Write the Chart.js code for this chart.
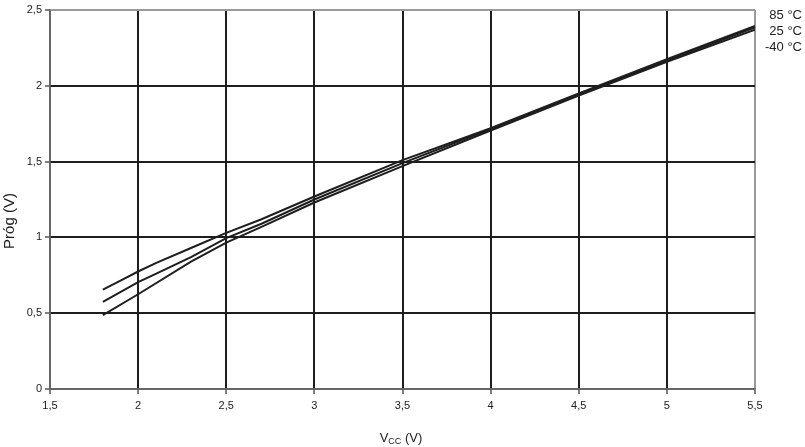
<!DOCTYPE html>
<html>
<head>
<meta charset="utf-8">
<script src="https://cdn.jsdelivr.net/npm/chart.js@4/dist/chart.umd.min.js"></script>
<style>
  html, body { margin: 0; padding: 0; background: #fff; }
  #wrap { width: 805px; height: 447px; }
</style>
</head>
<body>
<div id="wrap"><canvas id="myChart" width="805" height="447"></canvas></div>
<script>
var seriesNames = ["85 °C", "25 °C", "-40 °C"];
var vcc85 = [1.8, 1.9, 2.0, 2.1, 2.3, 2.5, 2.7, 3.0, 3.5, 4.0, 4.5, 5.0, 5.5];
var prog85 = [0.655, 0.715, 0.775, 0.83, 0.93, 1.03, 1.12, 1.27, 1.51, 1.72, 1.95, 2.175, 2.395];
var vcc25 = [1.8, 2.0, 2.1, 2.3, 2.5, 2.7, 3.0, 3.5, 4.0, 4.5, 5.0, 5.5];
var prog25 = [0.575, 0.705, 0.76, 0.87, 0.995, 1.09, 1.25, 1.49, 1.715, 1.945, 2.165, 2.385];
var vccM40 = [1.8, 2.0, 2.3, 2.5, 2.7, 3.0, 3.5, 4.0, 4.5, 5.0, 5.5];
var progM40 = [0.487, 0.625, 0.84, 0.965, 1.07, 1.23, 1.47, 1.705, 1.935, 2.158, 2.37];
var xTicks = [1.5, 2, 2.5, 3, 3.5, 4, 4.5, 5, 5.5];
var yTicks = [0, 0.5, 1, 1.5, 2, 2.5];
var yTitle = "Próg (V)";

function pts(xs, ys) {
    return xs.map(function (x, i) { return { x: x, y: ys[i] }; });
}
function komma(v) { return String(v).replace(".", ","); }

var tickFont = { family: "'Liberation Sans Narrow', 'Liberation Sans', Arial", size: 11 };

function gridColor(ctx) {
    var n = ctx.chart.scales[ctx.scale.id].ticks.length;
    if (ctx.index === n - 1) return "#9a9a9a";
    if (ctx.index === 0) return "#666";
    return "#1e1e1e";
}

var extras = {
    id: "extras",
    afterDraw: function (chart) {
        var c = chart.ctx;
        c.save();
        // Labels at right
        c.fillStyle = "#222";
        c.font = "13px 'Liberation Sans', Arial";
        c.textAlign = "right";
        c.textBaseline = "middle";
        c.fillText(seriesNames[0], 802, 15);
        c.fillText(seriesNames[1], 802, 31);
        c.fillText(seriesNames[2], 802, 47);
        // Y title
        c.save();
        c.translate(10, 221);
        c.rotate(-Math.PI / 2);
        c.textAlign = "center";
        c.font = "15px 'Liberation Sans', Arial";
        c.fillText(yTitle, 0, 0);
        c.restore();
        // X title with subscript
        c.textAlign = "left";
        c.textBaseline = "alphabetic";
        var base = 442;
        c.font = "13px 'Liberation Sans', Arial";
        var w1 = c.measureText("V").width;
        c.font = "9px 'Liberation Sans', Arial";
        var w2 = c.measureText("CC").width;
        c.font = "13px 'Liberation Sans', Arial";
        var w3 = c.measureText(" (V)").width;
        var x0 = 401 - (w1 + w2 + w3) / 2;
        c.fillText("V", x0, base);
        c.font = "9px 'Liberation Sans', Arial";
        c.fillText("CC", x0 + w1, base + 2);
        c.font = "13px 'Liberation Sans', Arial";
        c.fillText(" (V)", x0 + w1 + w2, base);
        c.restore();
    }
};

new Chart("myChart", {
    type: "scatter",
    data: {
        datasets: [
            { label: seriesNames[0], data: pts(vcc85, prog85) },
            { label: seriesNames[1], data: pts(vcc25, prog25) },
            { label: seriesNames[2], data: pts(vccM40, progM40) }
        ].map(function (d) {
            d.showLine = true;
            d.borderColor = "#1e1e1e";
            d.borderWidth = 2;
            d.pointRadius = 0;
            d.tension = 0;
            return d;
        })
    },
    options: {
        responsive: false,
        animation: false,
        layout: { padding: { top: 10, right: 50, left: 0, bottom: 0 } },
        plugins: { legend: { display: false }, tooltip: { enabled: false } },
        scales: {
            x: {
                type: "linear",
                min: 1.5, max: 5.5,
                afterBuildTicks: function (s) { s.ticks = xTicks.map(function (v) { return { value: v }; }); },
                afterFit: function (s) { s.height = 58; },
                ticks: { callback: komma, color: "#222", font: tickFont, padding: 5, maxRotation: 0 },
                grid: { color: gridColor, lineWidth: 2, tickLength: 5, tickColor: "#555", tickWidth: 1.5 },
                border: { color: "#666", width: 1.5 },
                title: { display: false }
            },
            y: {
                min: 0, max: 2.5,
                afterBuildTicks: function (s) { s.ticks = yTicks.map(function (v) { return { value: v }; }); },
                afterFit: function (s) { s.width = 50; },
                ticks: { callback: komma, color: "#222", font: tickFont, padding: 3 },
                grid: { color: gridColor, lineWidth: 2, tickLength: 5, tickColor: "#555", tickWidth: 1.5 },
                border: { color: "#666", width: 1.5 },
                title: { display: false }
            }
        }
    },
    plugins: [extras]
});
</script>
</body>
</html>
